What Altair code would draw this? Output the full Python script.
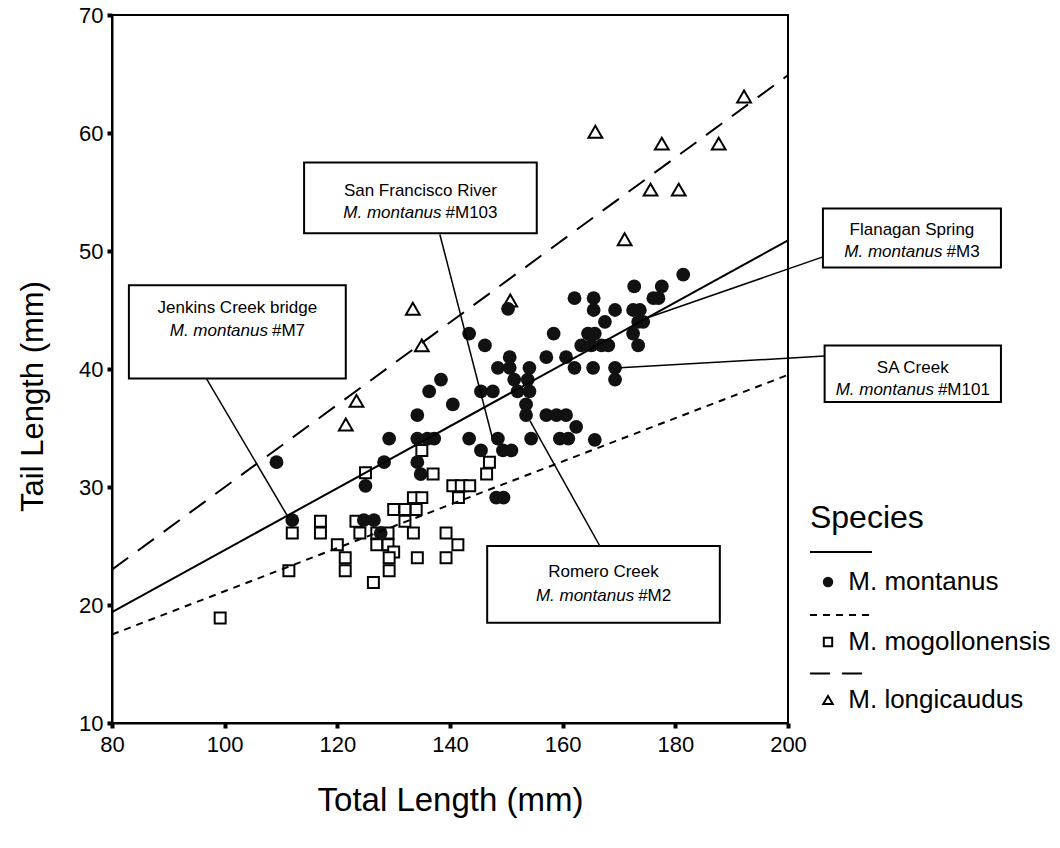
import altair as alt
import pandas as pd

# ---------------- data ----------------
mon_x = [109.2, 112.0, 124.7, 126.5, 127.7, 125.0, 128.3, 129.2, 134.2, 136.0,
         137.2, 134.2, 134.8, 134.2, 136.3, 138.4, 140.5, 143.4, 145.5, 148.5,
         149.4, 150.9, 148.2, 149.5, 154.4, 159.5, 161.0, 165.7, 162.4, 157.1,
         158.9, 160.6, 153.5, 153.5, 152.0, 154.1, 145.5, 147.6, 151.4, 153.8,
         148.5, 150.6, 154.1, 150.6, 157.1, 160.6, 162.1, 165.4, 169.3, 169.3,
         146.2, 143.4, 150.3, 158.4, 163.3, 165.1, 166.9, 168.1, 173.4, 164.5,
         165.7, 172.5, 167.5, 173.4, 174.3, 165.5, 169.3, 172.5, 173.7, 162.1,
         165.5, 176.1, 177.0, 172.7, 177.6, 181.4]
mon_y = [32.1, 27.2, 27.2, 27.2, 26.1, 30.1, 32.1, 34.1, 34.1, 34.1,
         34.1, 32.1, 31.1, 36.1, 38.1, 39.1, 37.0, 34.1, 33.1, 34.1,
         33.1, 33.1, 29.1, 29.1, 34.1, 34.1, 34.1, 34.0, 35.1, 36.1,
         36.1, 36.1, 36.1, 37.0, 38.1, 38.1, 38.1, 38.1, 39.1, 39.1,
         40.1, 40.1, 40.1, 41.0, 41.0, 41.0, 40.1, 40.1, 40.1, 39.1,
         42.0, 43.0, 45.1, 43.0, 42.0, 42.0, 42.0, 42.0, 42.0, 43.0,
         43.0, 43.0, 44.0, 44.0, 44.0, 45.0, 45.0, 45.0, 45.0, 46.0,
         46.0, 46.0, 46.0, 47.0, 47.0, 48.0]

mog_x = [135.0, 125.0, 137.0, 147.0, 146.5, 140.5, 142.0, 143.5, 141.5, 133.5,
         135.0, 130.0, 132.0, 134.0, 132.0, 117.0, 123.3, 112.0, 117.0, 124.0,
         127.0, 129.0, 133.5, 139.3, 120.0, 127.0, 129.0, 141.4, 130.0, 121.4,
         129.2, 134.2, 139.3, 121.4, 129.2, 111.4, 126.4, 99.2]
mog_y = [33.1, 31.2, 31.1, 32.1, 31.1, 30.1, 30.1, 30.1, 29.1, 29.1,
         29.1, 28.1, 28.1, 28.1, 27.1, 27.1, 27.1, 26.1, 26.1, 26.1,
         26.1, 26.1, 26.1, 26.1, 25.1, 25.1, 25.1, 25.1, 24.5, 24.0,
         24.0, 24.0, 24.0, 22.9, 22.9, 22.9, 21.9, 18.9]

lon_x = [165.8, 177.6, 187.7, 192.2, 175.6, 180.6, 171.0, 150.7, 133.4, 135.0,
         123.4, 121.5]
lon_y = [60.1, 59.1, 59.1, 63.1, 55.2, 55.2, 51.0, 45.8, 45.1, 42.0,
         37.3, 35.3]

fit_x = [80, 200]
fit_mon = [19.4, 50.9]
fit_mog = [17.5, 39.5]
fit_lon = [23.0, 64.9]

# annotation boxes (data units)
box_line1 = ["San Francisco River", "Jenkins Creek bridge", "Flanagan Spring",
             "SA Creek", "Romero Creek"]
box_code = ["#M103", "#M7", "#M3", "#M101", "#M2"]
box_x1 = [114.1, 83.0, 206.2, 206.5, 146.6]
box_x2 = [155.4, 121.5, 237.8, 237.8, 187.9]
box_y1 = [51.5, 39.2, 48.6, 37.2, 18.5]
box_y2 = [57.5, 47.1, 53.6, 42.0, 25.0]
box_t1 = [55.1, 45.2, 51.8, 40.1, 22.8]
box_t2 = [53.2, 43.2, 49.9, 38.2, 20.8]
box_split = [3.75, 5.44, 5.44, 3.75, 5.44]
lead_x1 = [138.2, 96.5, 206.2, 206.5, 166.6]
lead_y1 = [51.4, 39.4, 49.5, 41.1, 25.0]
lead_x2 = [147.5, 111.2, 174.8, 170.2, 154.2]
lead_y2 = [34.2, 27.5, 44.3, 40.1, 35.6]

# manual legend (data units, outside the plot area)
leg_labels = ["M. montanus", "M. mogollonensis", "M. longicaudus"]
leg_line_y = [24.5, 19.15, 14.2]
leg_sym_y = [21.95, 16.86, 11.95]
leg_line_x = [203.9, 214.9]
leg_sym_x = 207.1
leg_text_x = 210.7
leg_title_xy = (203.9, 27.4)

FONT = "Liberation Sans"
xs = alt.Scale(domain=[80, 200], nice=False, zero=False)
ys = alt.Scale(domain=[10, 70], nice=False, zero=False)

W, H = 676, 708

xaxis = alt.Axis(values=[80, 100, 120, 140, 160, 180, 200], title="Total Length (mm)",
                 grid=False, labelFont=FONT, labelFontSize=22, labelColor="black",
                 labelFlush=False, labelOverlap=False, labelPadding=6,
                 tickColor="black", tickSize=5, tickWidth=4,
                 domainColor="black", domainWidth=2,
                 titleFont=FONT, titleFontSize=33, titleFontWeight="normal",
                 titleColor="black", titleX=W / 2, titleY=77, titleBaseline="middle")
yaxis = alt.Axis(values=[10, 20, 30, 40, 50, 60, 70], title="Tail Length (mm)",
                 grid=False, labelFont=FONT, labelFontSize=22, labelColor="black",
                 labelFlush=False, labelOverlap=False, labelPadding=4,
                 tickColor="black", tickSize=5, tickWidth=4,
                 domainColor="black", domainWidth=2,
                 titleFont=FONT, titleFontSize=31, titleFontWeight="normal",
                 titleColor="black", titleX=-79, titleY=381, titleAngle=270,
                 titleAlign="center", titleBaseline="middle")


def X(f):
    return alt.X(f, type="quantitative", scale=xs, axis=xaxis)


def Y(f):
    return alt.Y(f, type="quantitative", scale=ys, axis=yaxis)


mon = pd.DataFrame({"x": mon_x, "y": mon_y})
mog = pd.DataFrame({"x": mog_x, "y": mog_y})
lon = pd.DataFrame({"x": lon_x, "y": lon_y})

p_mon = alt.Chart(mon).mark_point(shape="circle", filled=True, size=190,
                                  fill="#111111", opacity=1).encode(x=X("x"), y=Y("y"))
p_mog = alt.Chart(mog).mark_point(shape="square", filled=True, size=120, fill="white",
                                  stroke="black", strokeWidth=2, opacity=1).encode(x=X("x"), y=Y("y"))
p_lon = alt.Chart(lon).mark_point(shape="triangle-up", filled=True, size=190, fill="white",
                                  stroke="black", strokeWidth=2, opacity=1).encode(x=X("x"), y=Y("y"))


def fit(vals, dash):
    df = pd.DataFrame({"x": fit_x, "y": vals})
    kw = dict(color="black", strokeWidth=2)
    if dash:
        kw["strokeDash"] = dash
    return alt.Chart(df).mark_line(**kw).encode(x=X("x"), y=Y("y"))


l_mon = fit(fit_mon, None)
l_mog = fit(fit_mog, [7, 6])
l_lon = fit(fit_lon, [20, 12])

boxes = pd.DataFrame({"x": box_x1, "x2": box_x2, "y": box_y1, "y2": box_y2,
                      "t1": box_line1, "t1y": box_t1, "t2y": box_t2,
                      "code": box_code,
                      "cx": [(a + b) / 2 for a, b in zip(box_x1, box_x2)],
                      "sx": [(a + b) / 2 + s for a, b, s in zip(box_x1, box_x2, box_split)],
                      "lx1": lead_x1, "ly1": lead_y1, "lx2": lead_x2, "ly2": lead_y2})

leaders = alt.Chart(boxes).mark_rule(color="black", strokeWidth=1.5).encode(
    x=X("lx1"), y=Y("ly1"), x2="lx2", y2="ly2")
rects = alt.Chart(boxes).mark_rect(fill="white", stroke="black", strokeWidth=2).encode(
    x=X("x"), x2="x2", y=Y("y"), y2="y2")
txt1 = alt.Chart(boxes).mark_text(font=FONT, fontSize=17, color="black", align="center",
                                  baseline="middle").encode(x=X("cx"), y=Y("t1y"), text="t1")
txt2a = alt.Chart(boxes).transform_calculate(it="'M. montanus'").mark_text(
    font=FONT, fontSize=17, fontStyle="italic", color="black", align="right",
    baseline="middle").encode(x=X("sx"), y=Y("t2y"), text="it:N")
txt2b = alt.Chart(boxes).mark_text(font=FONT, fontSize=17, color="black", align="left",
                                   baseline="middle", dx=4).encode(x=X("sx"), y=Y("t2y"), text="code")

# manual legend
leg_lines = pd.DataFrame({"x": [leg_line_x[0]] * 3, "x2": [leg_line_x[1]] * 3, "y": leg_line_y,
                          "k": [0, 1, 2]})
lg_solid = alt.Chart(leg_lines[leg_lines.k == 0]).mark_rule(color="black", strokeWidth=2).encode(
    x=X("x"), x2="x2", y=Y("y"))
lg_short = alt.Chart(leg_lines[leg_lines.k == 1]).mark_rule(color="black", strokeWidth=2,
                                                            strokeDash=[7, 6]).encode(
    x=X("x"), x2="x2", y=Y("y"))
lg_long = alt.Chart(leg_lines[leg_lines.k == 2]).mark_rule(color="black", strokeWidth=2,
                                                           strokeDash=[20, 12]).encode(
    x=X("x"), x2="x2", y=Y("y"))
leg_sym = pd.DataFrame({"x": [leg_sym_x] * 3, "y": leg_sym_y, "lab": leg_labels,
                        "tx": [leg_text_x] * 3})
ls_mon = alt.Chart(leg_sym.iloc[[0]]).mark_point(shape="circle", filled=True, size=110,
                                                 fill="#111111", opacity=1).encode(x=X("x"), y=Y("y"))
ls_mog = alt.Chart(leg_sym.iloc[[1]]).mark_point(shape="square", filled=True, size=70, fill="white",
                                                 stroke="black", strokeWidth=2, opacity=1).encode(x=X("x"), y=Y("y"))
ls_lon = alt.Chart(leg_sym.iloc[[2]]).mark_point(shape="triangle-up", filled=True, size=90, fill="white",
                                                 stroke="black", strokeWidth=2, opacity=1).encode(x=X("x"), y=Y("y"))
ls_txt = alt.Chart(leg_sym).mark_text(font=FONT, fontSize=26, color="black", align="left",
                                      baseline="middle").encode(x=X("tx"), y=Y("y"), text="lab")
ls_title = alt.Chart(pd.DataFrame({"x": [leg_title_xy[0]], "y": [leg_title_xy[1]], "t": ["Species"]})
                     ).mark_text(font=FONT, fontSize=32, color="black", align="left",
                                 baseline="middle").encode(x=X("x"), y=Y("y"), text="t")

chart = alt.layer(
    p_mog, p_lon, p_mon, l_mon, l_mog, l_lon, leaders, rects, txt1, txt2a, txt2b,
    lg_solid, lg_short, lg_long, ls_mon, ls_mog, ls_lon, ls_txt, ls_title
).properties(
    width=W, height=H,
    padding={"left": 112, "top": 15, "right": 1060 - 112 - W, "bottom": 848 - 15 - H},
    autosize=alt.AutoSizeParams(type="none"),
    background="white",
).configure_view(stroke="black", strokeWidth=2)

chart.save("out.html", embed_options={"renderer": "svg", "actions": False})
